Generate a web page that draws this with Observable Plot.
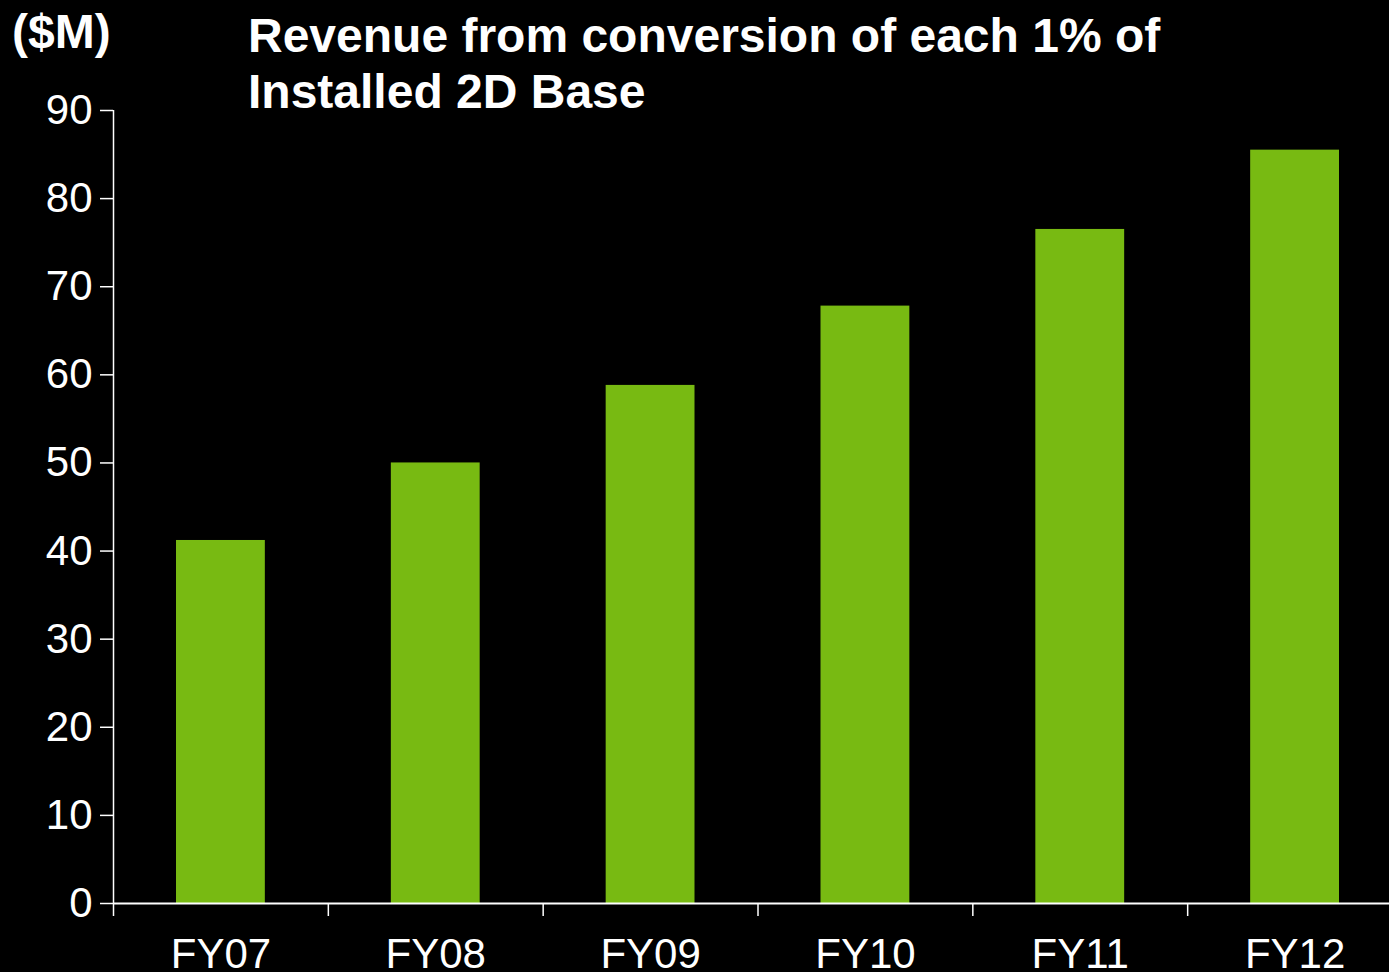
<!DOCTYPE html>
<html>
<head>
<meta charset="utf-8">
<script src="https://cdn.jsdelivr.net/npm/d3@7"></script>
<script src="https://cdn.jsdelivr.net/npm/@observablehq/plot@0.6"></script>
<style>
  html, body { margin: 0; padding: 0; background: #000; overflow: hidden; width: 1389px; height: 972px; }
  #wrap { position: relative; width: 1389px; height: 972px; overflow: hidden; }
  .ttl { position: absolute; color: #fff; font-family: "Liberation Sans", Arial, sans-serif; font-weight: bold; font-size: 48px; line-height: 56px; white-space: nowrap; }
  #unit { left: 12px; top: 4px; }
  #title { left: 248px; top: 8px; }
  #chart { position: absolute; left: 0; top: 0; width: 1402px; }
  #chart svg { max-width: none !important; }
</style>
</head>
<body>
<div id="wrap">
  <div id="chart"></div>
  <div class="ttl" id="unit">($M)</div>
  <div class="ttl" id="title">Revenue from conversion of each 1% of<br>Installed 2D Base</div>
</div>
<script>
const categories = ["FY07", "FY08", "FY09", "FY10", "FY11", "FY12"];
const revenue = [41.2, 50.0, 58.8, 67.8, 76.5, 85.5];
const yTicks = [0, 10, 20, 30, 40, 50, 60, 70, 80, 90];

const data = categories.map((c, i) => ({category: c, index: i, value: revenue[i]}));
const boundaries = d3.range(categories.length + 1);
const centers = categories.map((c, i) => i + 0.5);

const chart = Plot.plot({
  width: 1402,
  height: 972,
  marginTop: 110,
  marginBottom: 69,
  marginLeft: 113,
  marginRight: 0,
  style: {background: "#000", color: "#fff", fontFamily: "'Liberation Sans', Arial, sans-serif", maxWidth: "none"},
  x: {domain: [0, categories.length]},
  y: {domain: [0, 90]},
  marks: [
    Plot.rectY(data, {x1: d => d.index, x2: d => d.index + 1, y: "value", fill: "#78ba12", insetLeft: 63, insetRight: 63}),
    Plot.ruleY([0], {stroke: "#fff", strokeWidth: 2}),
    Plot.ruleX([0], {y1: 0, y2: 90, stroke: "#fff", strokeWidth: 1.5}),
    Plot.axisY({ticks: yTicks, tickSize: 13, tickPadding: 8, fontSize: 42, label: null, stroke: "#fff", strokeWidth: 1.5}),
    Plot.axisX({ticks: boundaries, tickSize: 13, tickFormat: () => "", label: null, stroke: "#fff", strokeWidth: 1.5}),
    Plot.axisX({ticks: centers, tickSize: 0, tickPadding: 35, fontSize: 42, label: null, tickFormat: v => categories[Math.floor(v)]})
  ]
});
document.getElementById("chart").appendChild(chart);
</script>
</body>
</html>
